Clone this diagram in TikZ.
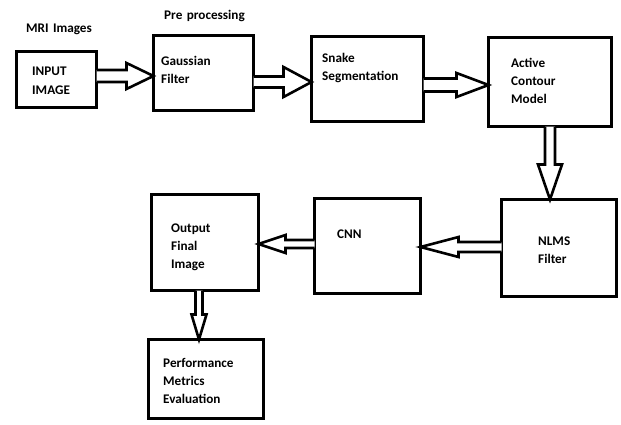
\documentclass[tikz,border=0pt]{standalone}
\usepackage{fontspec}
\setmainfont{Carlito}
\usetikzlibrary{calc}
\tikzset{
  box/.style={draw, line width=3pt, inner sep=0pt, outer sep=0pt},
  lbl/.style={anchor=base west, align=left, inner sep=0pt, font=\bfseries\fontsize{13.2}{18}\selectfont, text width=4cm},
  blk/.style={draw, line width=2.6pt, fill=white, line join=miter},
}
% horizontal block arrow: from, to, y, shaft half, head half, head length (right or left by sign)
\newcommand{\harr}[7]{\draw[blk] let \p1=(#1), \p2=(#2) in
  (\x1,#3pt+#4pt) -- (\x2#7#6pt,#3pt+#4pt) -- (\x2#7#6pt,#3pt+#5pt) -- (\x2,#3pt)
  -- (\x2#7#6pt,#3pt-#5pt) -- (\x2#7#6pt,#3pt-#4pt) -- (\x1,#3pt-#4pt);}
\newcommand{\varr}[6]{\draw[blk] let \p1=(#1), \p2=(#2) in
  (#3pt-#4pt,\y1) -- (#3pt-#4pt,\y2+#6pt) -- (#3pt-#5pt,\y2+#6pt) -- (#3pt,\y2)
  -- (#3pt+#5pt,\y2+#6pt) -- (#3pt+#4pt,\y2+#6pt) -- (#3pt+#4pt,\y1);}
\begin{document}
\begin{tikzpicture}[x=1pt,y=1pt]
\useasboundingbox[fill=white] (0,0) rectangle (621,424);
% boxes (y flipped: Y = 424 - y)
\node[box, minimum width=80pt, minimum height=56pt]  (b1) at (56.5,344.5) {};
\node[box, minimum width=100pt, minimum height=75pt] (b2) at (203.5,351) {};
\node[box, minimum width=112pt, minimum height=85pt] (b3) at (367.5,345) {};
\node[box, minimum width=123pt, minimum height=89pt] (b4) at (550,342) {};
\node[box, minimum width=115pt, minimum height=97pt] (b5) at (559,176) {};
\node[box, minimum width=106pt, minimum height=95pt] (b6) at (367.5,178) {};
\node[box, minimum width=107pt, minimum height=96pt] (b7) at (205,181.5) {};
\node[box, minimum width=115pt, minimum height=79pt] (b8) at (206,45) {};
% labels
\node[lbl] (t0) at (26,391) {MRI Images};
\node[lbl] (t00) at (164,404) {Pre processing};
\node[lbl] (t1) at (32,348) {INPUT\\IMAGE};
\node[lbl] (t2) at (161,358) {Gaussian\\Filter};
\node[lbl] (t3) at (322,361) {Snake\\Segmentation};
\node[lbl] (t4) at (511,356) {Active\\Contour\\Model};
\node[lbl] (t5) at (538,179) {NLMS\\Filter};
\node[lbl] (t6) at (337,186) {CNN};
\node[lbl] (t7) at (171,192) {Output\\Final\\Image};
\node[lbl] (t8) at (163,57) {Performance\\Metrics\\Evaluation};
% arrows
\harr{b1.east}{b2.west}{348}{6}{13}{27}{-}
\harr{b2.east}{b3.west}{342}{5.5}{15}{28}{-}
\harr{b3.east}{b4.west}{339}{6.5}{12}{32}{-}
\varr{b4.south}{b5.north}{550}{5}{12}{35}
\harr{b5.west}{b6.east}{177}{5}{10}{38}{+}
\harr{b6.west}{b7.east}{180}{4}{9}{27}{+}
\varr{b7.south}{b8.north}{199}{3.5}{7.5}{25}
\end{tikzpicture}
\end{document}
